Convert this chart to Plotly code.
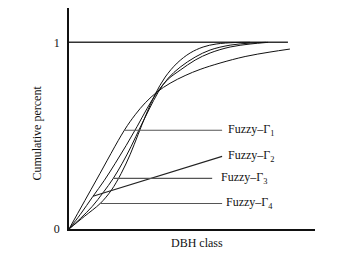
import plotly.graph_objects as go

# x: DBH class (arbitrary units, axis 0..100), y: cumulative proportion
g1_x = [0, 11.1, 22.5, 26.9, 31.0, 35.9, 41.1, 47.2, 53.3, 61.4, 71.6, 81.7, 89.8]
g1_y = [0, 0.262, 0.529, 0.612, 0.676, 0.735, 0.781, 0.822, 0.855, 0.889, 0.924, 0.948, 0.964]

g2_x = [0, 4.59, 9.74, 14.33, 18.80, 23.26, 27.73, 31.79, 35.85, 40.32, 45.19, 51.28, 57.37, 65.49, 73.61, 80.92]
g2_y = [0, 0.078, 0.175, 0.260, 0.352, 0.448, 0.550, 0.647, 0.733, 0.803, 0.851, 0.905, 0.943, 0.975, 0.991, 1.0]

g3_x = [0, 4.59, 9.46, 13.93, 17.99, 21.64, 25.29, 28.95, 32.60, 36.26, 40.32, 45.19, 51.28, 57.37, 65.49, 73.61, 80.10]
g3_y = [0, 0.056, 0.121, 0.196, 0.271, 0.352, 0.443, 0.545, 0.642, 0.733, 0.808, 0.867, 0.921, 0.959, 0.985, 0.996, 1.0]

g4_x = [0, 6.21, 12.71, 17.17, 21.23, 24.89, 28.14, 31.38, 35.04, 39.10, 43.97, 49.25, 54.53, 59.81, 67.52, 73.61]
g4_y = [0, 0.067, 0.137, 0.207, 0.298, 0.400, 0.508, 0.615, 0.722, 0.814, 0.889, 0.943, 0.975, 0.991, 0.999, 1.0]

ref_x = [0, 89.0]
ref_y = [1, 1]

labels = ["Fuzzy–Γ<sub>1</sub>", "Fuzzy–Γ<sub>2</sub>", "Fuzzy–Γ<sub>3</sub>", "Fuzzy–Γ<sub>4</sub>"]
lead_x0 = [22.45, 9.74, 17.99, 12.71]
lead_y0 = [0.529, 0.175, 0.271, 0.137]
lead_x1 = [62.24, 62.24, 58.2, 62.24]
lead_y1 = [0.529, 0.389, 0.271, 0.137]
text_x = [63.9, 63.9, 61.0, 63.05]
lead_colors = ["#555555", "#222222", "#555555", "#555555"]

tick_vals = [0, 1]
tick_text = ["0", "1"]

fig = go.Figure()
fig.add_trace(go.Scatter(x=ref_x, y=ref_y, mode="lines",
                         line=dict(color="#333333", width=1.5), hoverinfo="skip"))
for xs, ys in [(g1_x, g1_y), (g2_x, g2_y), (g3_x, g3_y), (g4_x, g4_y)]:
    fig.add_trace(go.Scatter(x=xs, y=ys, mode="lines",
                             line=dict(color="#111111", width=1, shape="spline", smoothing=1.0),
                             hoverinfo="skip"))

for i in range(4):
    fig.add_shape(type="line", x0=lead_x0[i], y0=lead_y0[i], x1=lead_x1[i], y1=lead_y1[i],
                  line=dict(color=lead_colors[i], width=1.1))
    fig.add_annotation(x=text_x[i], y=lead_y1[i], text=labels[i], showarrow=False,
                       xanchor="left", yanchor="middle",
                       font=dict(family="Liberation Serif", size=12, color="#111111"))

fig.add_annotation(xref="paper", yref="paper", x=0.52, y=-0.064, text="DBH class",
                   showarrow=False, xanchor="center", yanchor="middle",
                   font=dict(family="Liberation Serif", size=12, color="#111111"))
fig.add_annotation(xref="paper", yref="paper", x=-0.129, y=0.433, text="Cumulative percent",
                   showarrow=False, textangle=-90, xanchor="center", yanchor="middle",
                   font=dict(family="Liberation Serif", size=12, color="#111111"))

fig.update_layout(
    width=359, height=259,
    margin=dict(l=61, r=52, t=0, b=38),
    paper_bgcolor="white", plot_bgcolor="white",
    showlegend=False,
    xaxis=dict(range=[0, 100], showgrid=False, zeroline=False, showticklabels=False,
               showline=True, linecolor="#111111", linewidth=1.5, ticks=""),
    yaxis=dict(range=[0, 1.184], showgrid=False, zeroline=False,
               tickvals=tick_vals, ticktext=tick_text, ticks="", ticklabelstandoff=5,
               tickfont=dict(family="Liberation Serif", size=12, color="#111111"),
               showline=True, linecolor="#111111", linewidth=1.5),
)

fig.write_html("out.html")
